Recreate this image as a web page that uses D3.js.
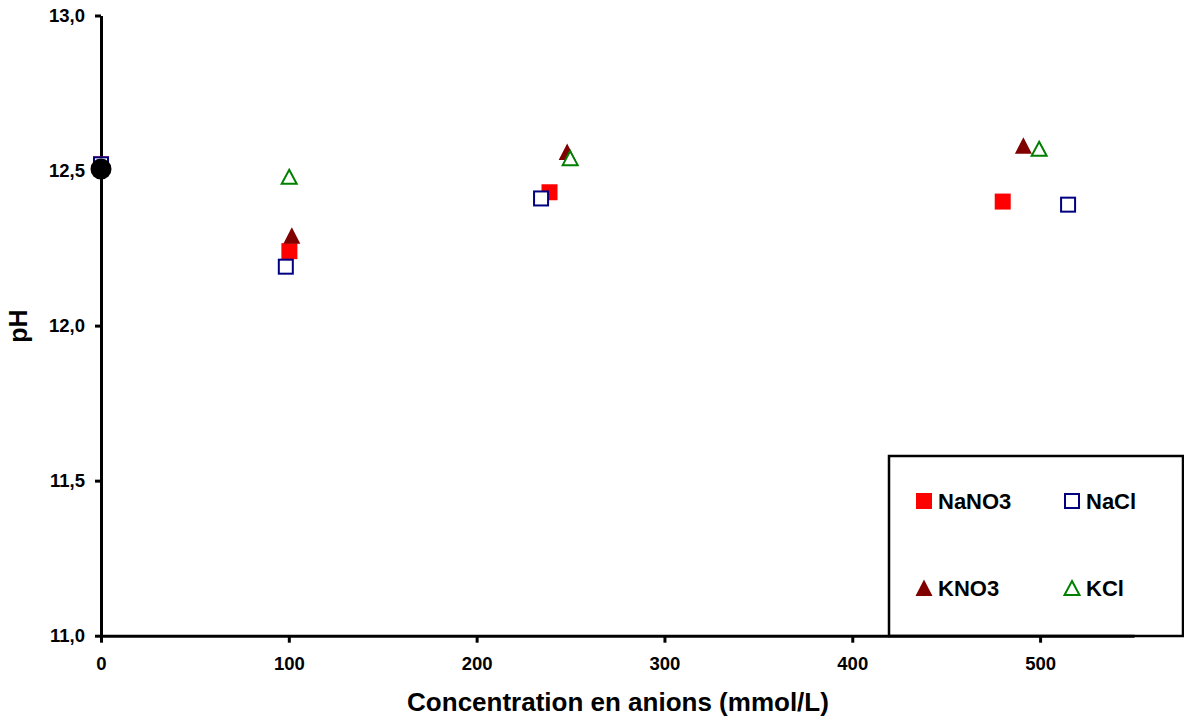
<!DOCTYPE html>
<html><head><meta charset="utf-8">
<script src="https://cdn.jsdelivr.net/npm/d3@7"></script>
<style>body{margin:0;background:#fff}svg{display:block}text{font-family:"Liberation Sans",Arial,sans-serif;font-weight:bold;fill:#000}</style>
</head><body>
<svg id="c" width="1184" height="722"></svg>
<script>
const xTicks = [0, 100, 200, 300, 400, 500];
const yTicks = [11.0, 11.5, 12.0, 12.5, 13.0];
const xLabel = "Concentration en anions (mmol/L)";
const yLabel = "pH";

const nano3X = [0, 100.3, 238.8, 480.1];
const nano3Y = [12.52, 12.24, 12.43, 12.40];
const naclX = [0, 98.4, 234.3, 514.9];
const naclY = [12.52, 12.19, 12.41, 12.39];
const kno3X = [101.6, 248.2, 491.1];
const kno3Y = [12.29, 12.56, 12.58];
const kclX = [100.2, 249.8, 499.5];
const kclY = [12.48, 12.54, 12.57];
const initX = [0];
const initY = [12.505];

const svg = d3.select("#c");
const x = d3.scaleLinear().domain([0, 550]).range([101, 1134]);
const y = d3.scaleLinear().domain([11, 13]).range([635.7, 15.5]);
const comma = v => d3.format(".1f")(v).replace(".", ",");

// legend box (drawn under the axis)
const lg = svg.append("g");
lg.append("rect").attr("x", 889).attr("y", 456).attr("width", 294).attr("height", 180)
  .attr("fill", "#fff").attr("stroke", "#000").attr("stroke-width", 2.5);

// axes
const gy = svg.append("g").attr("transform", "translate(101,0)")
  .call(d3.axisLeft(y).tickValues(yTicks).tickFormat(comma).tickSize(6).tickSizeOuter(0).tickPadding(10));
const gx = svg.append("g").attr("transform", "translate(0,635.7)")
  .call(d3.axisBottom(x).tickValues(xTicks).tickFormat(d3.format("d")).tickSize(7).tickSizeOuter(0).tickPadding(14));
[gy, gx].forEach(g => {
  g.select(".domain").attr("stroke", "#000").attr("stroke-width", 3);
  g.selectAll(".tick line").attr("stroke", "#000").attr("stroke-width", 3);
  g.selectAll(".tick text").style("font-size", "18.5px").style("font-family", '"Liberation Sans",Arial,sans-serif').style("font-weight", "bold").attr("fill", "#000");
});
gx.selectAll(".tick text").attr("dy", "0.71em");

svg.append("text").attr("x", 618).attr("y", 711).attr("text-anchor", "middle")
  .style("font-size", "26px").text(xLabel);
svg.append("text").attr("transform", "translate(27,326) rotate(-90)").attr("text-anchor", "middle")
  .style("font-size", "25px").text(yLabel);

// marker shapes
function square(g, cx, cy, fill, stroke) {
  if (stroke) g.append("rect").attr("x", cx - 7).attr("y", cy - 7).attr("width", 14).attr("height", 14)
      .attr("fill", "#fff").attr("stroke", stroke).attr("stroke-width", 2);
  else g.append("rect").attr("x", cx - 8).attr("y", cy - 8).attr("width", 16).attr("height", 16).attr("fill", fill);
}
function tri(g, cx, cy, fill, stroke) {
  if (stroke) g.append("path").attr("d", `M${cx},${cy - 7}L${cx + 7.5},${cy + 7}L${cx - 7.5},${cy + 7}Z`)
      .attr("fill", "#fff").attr("stroke", stroke).attr("stroke-width", 2);
  else g.append("path").attr("d", `M${cx},${cy - 8.5}L${cx + 8.5},${cy + 8}L${cx - 8.5},${cy + 8}Z`).attr("fill", fill);
}

const pts = svg.append("g");
nano3X.forEach((v, i) => square(pts, x(v), y(nano3Y[i]), "#ff0000"));
naclX.forEach((v, i) => square(pts, x(v), y(naclY[i]), null, "#000080"));
kno3X.forEach((v, i) => tri(pts, x(v), y(kno3Y[i]), "#800000"));
kclX.forEach((v, i) => tri(pts, x(v), y(kclY[i]), null, "#008000"));
initX.forEach((v, i) => pts.append("circle").attr("cx", x(v)).attr("cy", y(initY[i])).attr("r", 10.5).attr("fill", "#000"));

// legend entries
const items = [
  {name: "NaNO3", cx: 924, cy: 501, f: g => square(g, 924, 501, "#ff0000")},
  {name: "NaCl", cx: 1072, cy: 501, f: g => square(g, 1072, 501, null, "#000080")},
  {name: "KNO3", cx: 924, cy: 588, f: g => tri(g, 924, 588, "#800000")},
  {name: "KCl", cx: 1072, cy: 588, f: g => tri(g, 1072, 588, null, "#008000")}
];
const lg2 = svg.append("g");
items.forEach(it => {
  it.f(lg2);
  lg2.append("text").attr("x", it.cx + 14).attr("y", it.cy + 8).style("font-size", "22px").text(it.name);
});
</script>
</body></html>
